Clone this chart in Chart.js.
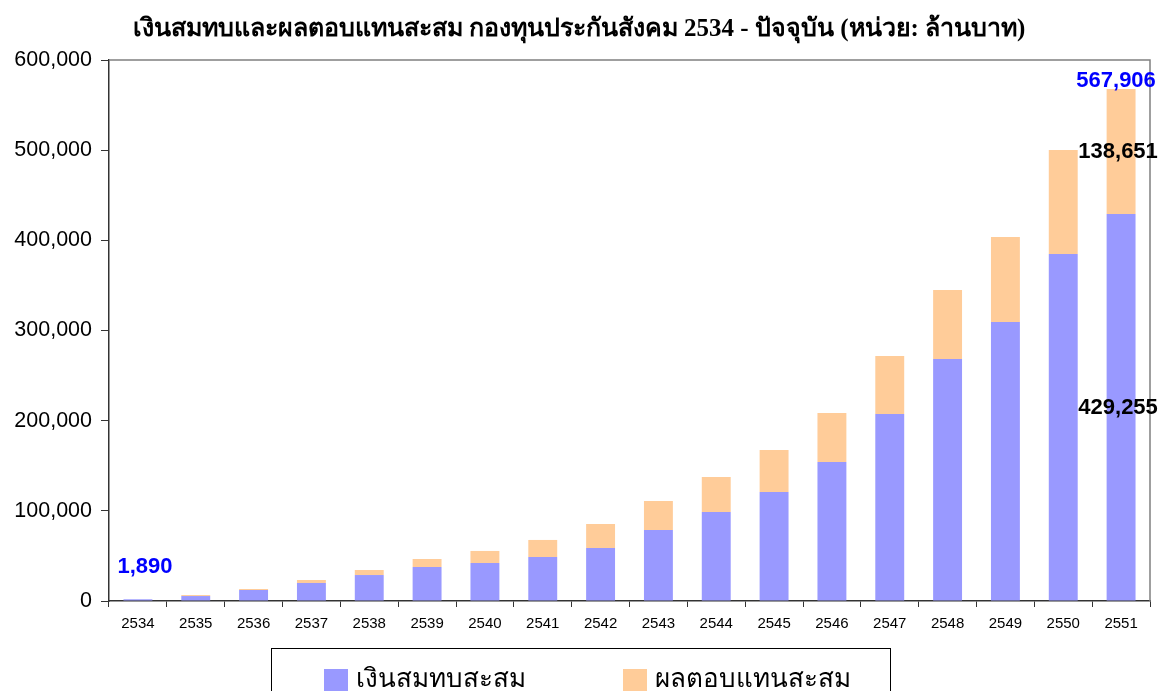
<!DOCTYPE html>
<html>
<head>
<meta charset="utf-8">
<script src="https://cdn.jsdelivr.net/npm/chart.js@4.4.0/dist/chart.umd.min.js"></script>
<style>
html,body{margin:0;padding:0;background:#fff;}
#wrap{width:1165px;height:691px;position:relative;}
</style>
</head>
<body>
<div id="wrap"><canvas id="c" width="1165" height="691"></canvas></div>
<script>
const years = ['2534','2535','2536','2537','2538','2539','2540','2541','2542','2543','2544','2545','2546','2547','2548','2549','2550','2551'];
const contributions = [1890,5500,12200,20000,28800,37700,42100,48800,58800,78700,98700,120900,154200,207400,268400,309400,384800,429255];
const returns = [0,1100,1100,3300,5600,8900,13400,18900,26600,32200,38800,46600,54300,64300,76500,94300,115400,138651];
const yTicks = [0,100000,200000,300000,400000,500000,600000];
const seriesNames = ['เงินสมทบสะสม','ผลตอบแทนสะสม'];
const titleText = 'เงินสมทบและผลตอบแทนสะสม กองทุนประกันสังคม 2534 - ปัจจุบัน (หน่วย: ล้านบาท)';
const colors = ['#9999FF','#FFCC99'];

const fmt = v => v.toLocaleString('en-US');

const extras = {
  id: 'extras',
  afterDraw(chart) {
    const ctx = chart.ctx;
    const x = chart.scales.x, y = chart.scales.y;
    const ca = chart.chartArea;
    ctx.save();
    // plot border top/right
    ctx.strokeStyle = '#808080';
    ctx.lineWidth = 1.5;
    ctx.beginPath();
    ctx.moveTo(ca.left, ca.top);
    ctx.lineTo(ca.right, ca.top);
    ctx.lineTo(ca.right, ca.bottom);
    ctx.stroke();
    // title
    ctx.fillStyle = '#000';
    ctx.font = 'bold 25px "Liberation Serif", "DejaVu Serif", serif';
    ctx.textAlign = 'center';
    ctx.textBaseline = 'middle';
    ctx.fillText(titleText, 579, 30);
    // data labels
    const last = years.length - 1;
    const total = contributions[last] + returns[last];
    ctx.font = 'bold 22px "Liberation Sans", Arial, sans-serif';
    ctx.fillStyle = '#0000FF';
    ctx.fillText(fmt(contributions[0] + returns[0]), x.getPixelForValue(0) + 7, y.getPixelForValue(contributions[0] + returns[0]) - 32);
    ctx.fillText(fmt(total), x.getPixelForValue(last) - 5, y.getPixelForValue(total) - 8);
    ctx.fillStyle = '#000';
    ctx.fillText(fmt(returns[last]), x.getPixelForValue(last) - 3, (y.getPixelForValue(total) + y.getPixelForValue(contributions[last])) / 2);
    ctx.fillText(fmt(contributions[last]), x.getPixelForValue(last) - 3, (y.getPixelForValue(contributions[last]) + y.getPixelForValue(0)) / 2);
    // legend
    ctx.strokeStyle = '#000';
    ctx.lineWidth = 1;
    ctx.strokeRect(271.5, 648.5, 619, 60);
    const items = [[324, colors[0], seriesNames[0]], [623, colors[1], seriesNames[1]]];
    ctx.textAlign = 'left';
    ctx.font = '26px "Liberation Serif", "DejaVu Serif", serif';
    items.forEach(([lx, c, t]) => {
      ctx.fillStyle = c;
      ctx.fillRect(lx, 669, 24, 24);
      ctx.fillStyle = '#000';
      ctx.fillText(t, lx + 32, 680);
    });
    ctx.restore();
  }
};

new Chart(document.getElementById('c'), {
  type: 'bar',
  data: {
    labels: years,
    datasets: [
      { label: seriesNames[0], data: contributions, backgroundColor: colors[0], barPercentage: 0.5, categoryPercentage: 1 },
      { label: seriesNames[1], data: returns, backgroundColor: colors[1], barPercentage: 0.5, categoryPercentage: 1 }
    ]
  },
  options: {
    responsive: false,
    animation: false,
    layout: { padding: { top: 60, right: 15, bottom: 50, left: 0 } },
    plugins: { legend: { display: false }, tooltip: { enabled: false }, title: { display: false } },
    scales: {
      x: {
        stacked: true,
        grid: { display: true, drawOnChartArea: false, offset: true, tickLength: 6, tickColor: '#333' },
        border: { color: '#333', width: 1.5 },
        ticks: { color: '#000', font: { family: '"Liberation Sans", Arial, sans-serif', size: 15 }, padding: 8, maxRotation: 0, autoSkip: false },
        afterFit(s) { s.height = 40; }
      },
      y: {
        stacked: true,
        min: 0, max: 600000,
        afterBuildTicks(s) { s.ticks = yTicks.map(v => ({ value: v })); },
        grid: { display: true, drawOnChartArea: false, tickLength: 8, tickColor: '#333' },
        border: { color: '#333', width: 1.5 },
        ticks: { color: '#000', font: { family: '"Liberation Sans", Arial, sans-serif', size: 21.5 }, padding: 9, callback: v => fmt(v) },
        afterFit(s) { s.width = 109; }
      }
    }
  },
  plugins: [extras]
});
</script>
</body>
</html>
